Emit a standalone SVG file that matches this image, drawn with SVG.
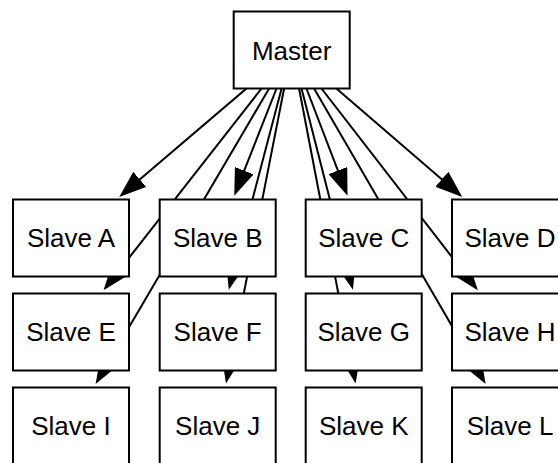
<svg xmlns="http://www.w3.org/2000/svg" width="558" height="463" viewBox="0 0 558 463">
<style>
.node rect{fill:#fff;stroke:#000;stroke-width:2}
.node text{font-family:"Liberation Sans",Arial,Helvetica,sans-serif;font-size:26px;fill:#000;text-anchor:middle}
.edge{stroke:#000;stroke-width:2;fill:none;marker-end:url(#arrow)}
</style>
<defs>
<marker id="arrow" markerUnits="userSpaceOnUse" markerWidth="27" markerHeight="20" refX="24" refY="10" orient="auto" viewBox="0 0 27 20">
<path d="M0,0 L27,10 L0,20 z" fill="#000"/>
</marker>
</defs>
<rect width="558" height="463" fill="#fff"/>
<g id="connectors">
<line class="edge" x1="291.7" y1="50" x2="121.53" y2="194.96"/>
<line class="edge" x1="291.7" y1="50" x2="235.41" y2="192.99"/>
<line class="edge" x1="291.7" y1="50" x2="346.45" y2="192.96"/>
<line class="edge" x1="291.7" y1="50" x2="460.0" y2="194.93"/>
<line class="edge" x1="291.7" y1="50" x2="105.41" y2="287.99"/>
<line class="edge" x1="291.7" y1="50" x2="229.58" y2="286.73"/>
<line class="edge" x1="291.7" y1="50" x2="352.14" y2="286.72"/>
<line class="edge" x1="291.7" y1="50" x2="475.91" y2="287.96"/>
<line class="edge" x1="291.7" y1="50" x2="97.14" y2="381.46"/>
<line class="edge" x1="291.7" y1="50" x2="226.63" y2="380.63"/>
<line class="edge" x1="291.7" y1="50" x2="355.01" y2="380.62"/>
<line class="edge" x1="291.7" y1="50" x2="484.14" y2="381.45"/>
</g>
<g id="nodes">
<g id="master" class="node"><rect x="233.7" y="11.5" width="116" height="77"/><text x="291.7" y="59.5">Master</text></g>
<g id="slaveA" class="node"><rect x="13" y="199.5" width="116" height="77"/><text x="71" y="247">Slave A</text></g>
<g id="slaveB" class="node"><rect x="159.7" y="199.5" width="116" height="77"/><text x="217.7" y="247">Slave B</text></g>
<g id="slaveC" class="node"><rect x="305.7" y="199.5" width="116" height="77"/><text x="363.7" y="247">Slave C</text></g>
<g id="slaveD" class="node"><rect x="452" y="199.5" width="116" height="77"/><text x="510" y="247">Slave D</text></g>
<g id="slaveE" class="node"><rect x="13" y="293.5" width="116" height="77"/><text x="71" y="341">Slave E</text></g>
<g id="slaveF" class="node"><rect x="159.7" y="293.5" width="116" height="77"/><text x="217.7" y="341">Slave F</text></g>
<g id="slaveG" class="node"><rect x="305.7" y="293.5" width="116" height="77"/><text x="363.7" y="341">Slave G</text></g>
<g id="slaveH" class="node"><rect x="452" y="293.5" width="116" height="77"/><text x="510" y="341">Slave H</text></g>
<g id="slaveI" class="node"><rect x="13" y="387.5" width="116" height="77"/><text x="71" y="435">Slave I</text></g>
<g id="slaveJ" class="node"><rect x="159.7" y="387.5" width="116" height="77"/><text x="217.7" y="435">Slave J</text></g>
<g id="slaveK" class="node"><rect x="305.7" y="387.5" width="116" height="77"/><text x="363.7" y="435">Slave K</text></g>
<g id="slaveL" class="node"><rect x="452" y="387.5" width="116" height="77"/><text x="510" y="435">Slave L</text></g>
</g>
</svg>
